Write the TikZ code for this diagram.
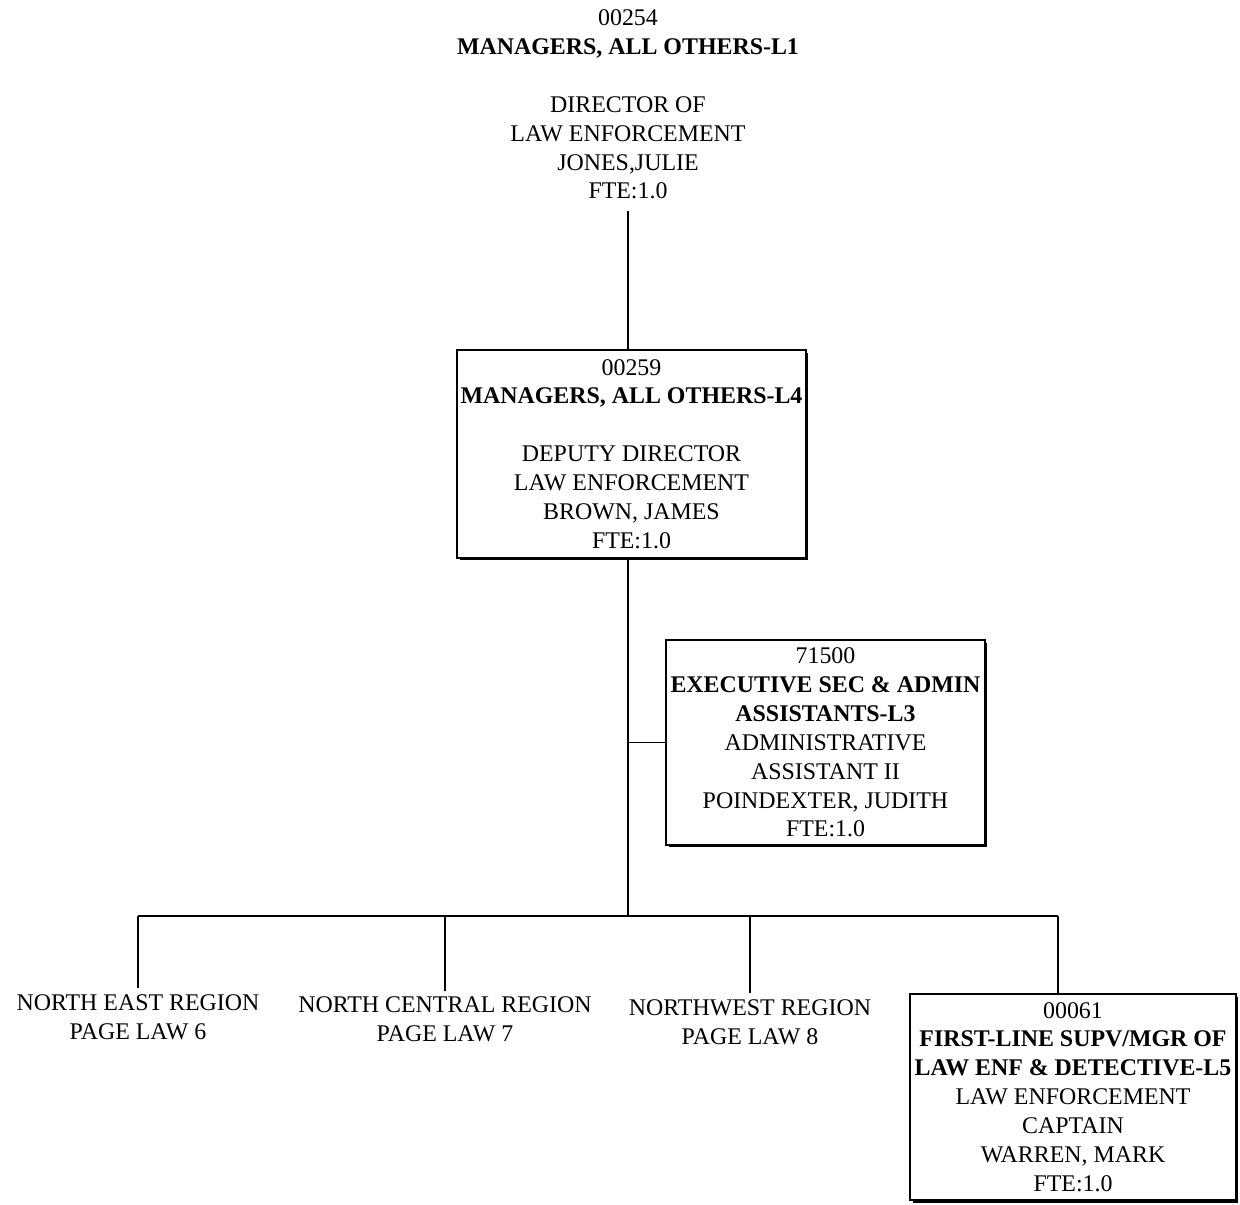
\documentclass[tikz,border=0pt]{standalone}
\usepackage{fontspec}
\setmainfont{Liberation Serif}
\usetikzlibrary{positioning,shadows}

\begin{document}
\begin{tikzpicture}[x=0.02cm, y=-0.02cm, line width=1pt,
    txt/.style={align=center, inner sep=0pt, font=\fontsize{13.6}{16.45}\selectfont},
    region/.style={txt, inner sep=3pt},
    posbox/.style={txt, draw, line width=0.7pt, fill=white,
        drop shadow={shadow xshift=0.05cm, shadow yshift=-0.05cm, fill=black, opacity=1}}]
    \useasboundingbox (0,0) rectangle (1240,1204);
    % director heading, no box
    \node[txt] (director) at (628,104.5) {00254\\\textbf{MANAGERS, ALL OTHERS-L1}\\[16.45pt]DIRECTOR OF\\LAW ENFORCEMENT\\JONES,JULIE\\FTE:1.0};
    % boxed positions
    \node[posbox, minimum width=6.98cm, minimum height=4.16cm] (deputy) at (631.5,454)
        {00259\\\textbf{MANAGERS, ALL OTHERS-L4}\\[16.45pt]DEPUTY DIRECTOR\\LAW ENFORCEMENT\\BROWN, JAMES\\FTE:1.0};
    \node[posbox, minimum width=6.38cm, minimum height=4.1cm] (execsec) at (825.5,742.5)
        {71500\\\textbf{EXECUTIVE SEC \& ADMIN}\\\textbf{ASSISTANTS-L3}\\ADMINISTRATIVE\\ASSISTANT II\\POINDEXTER, JUDITH\\FTE:1.0};
    \node[posbox, minimum width=6.52cm, minimum height=4.12cm] (captain) at (1073,1097)
        {00061\\\textbf{FIRST-LINE SUPV/MGR OF}\\\textbf{LAW ENF \& DETECTIVE-L5}\\LAW ENFORCEMENT\\CAPTAIN\\WARREN, MARK\\FTE:1.0};
    % regions on other pages
    \node[region] (northeast) at (138,1017) {NORTH EAST REGION\\PAGE LAW 6};
    \node[region] (northcentral) at (445,1019.5) {NORTH CENTRAL REGION\\PAGE LAW 7};
    \node[region] (northwest) at (750,1022) {NORTHWEST REGION\\PAGE LAW 8};
    % connectors
    \coordinate (bus) at (628,916);
    \coordinate (drop) at (1058,916);
    \draw[shorten <=6pt] (director.south) -- (director.south |- deputy.north);
    \draw (bus |- deputy.south) -- (bus);
    \draw (bus |- execsec.west) -- (execsec.west);
    \draw (northeast.north |- bus) -- (drop);
    \foreach \n in {northeast,northcentral,northwest}
        \draw (\n.north |- bus) -- (\n.north);
    \draw (drop) -- (drop |- captain.north);
\end{tikzpicture}
\end{document}
